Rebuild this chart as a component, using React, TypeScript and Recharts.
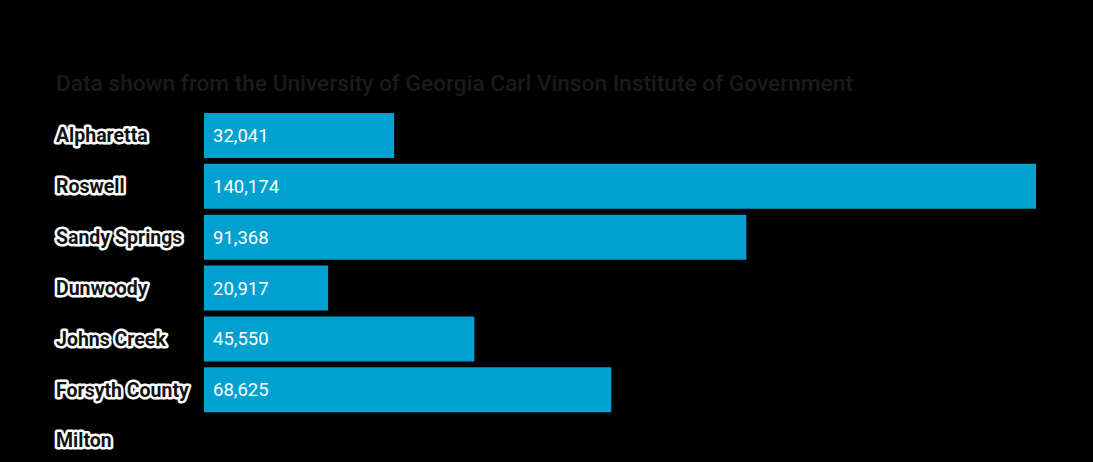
import React from 'react';
import { BarChart, Bar, XAxis, YAxis, LabelList } from 'recharts';

const cities = ['Alpharetta', 'Roswell', 'Sandy Springs', 'Dunwoody', 'Johns Creek', 'Forsyth County', 'Milton'];
const values: (number | null)[] = [32041, 140174, 91368, 20917, 45550, 68625, null];

const data = cities.map((city, i) => ({ city, value: values[i] }));

const CityTick = (props: any) => {
  const { y, payload } = props;
  return (
    <text
      x={56}
      y={y}
      dy="0.35em"
      textAnchor="start"
      fontFamily="Roboto"
      fontWeight="bold"
      fontSize={19.5}
      fill="#111"
      stroke="#fff"
      strokeWidth={5}
      strokeLinejoin="round"
      paintOrder="stroke"
    >
      {payload.value}
    </text>
  );
};

const ValueLabel = (props: any) => {
  const { x, y, height, value } = props;
  if (value == null) return null;
  return (
    <text x={x + 9} y={y + height / 2} dy="0.35em" fill="#fff" fontFamily="Roboto" fontSize={18.5}>
      {Number(value).toLocaleString('en-US')}
    </text>
  );
};

export default function App() {
  return (
    <div style={{ position: 'fixed', left: 0, top: 0, width: 1093, height: 462, background: '#000', overflow: 'hidden' }}>
      <div
        style={{
          position: 'absolute',
          left: 56,
          top: 69,
          fontFamily: 'Roboto',
          fontWeight: 500,
          fontSize: 22.7,
          lineHeight: '30px',
          color: '#1b1b1b',
          whiteSpace: 'nowrap',
        }}
      >
        Data shown from the University of Georgia Carl Vinson Institute of Government
      </div>
      <div style={{ position: 'absolute', left: 0, top: 0 }}>
        <BarChart
          width={1093}
          height={470}
          data={data}
          layout="vertical"
          margin={{ top: 110, right: 57, bottom: 4, left: 0 }}
          barCategoryGap={3}
        >
          <XAxis type="number" domain={[0, 140174]} hide />
          <YAxis
            type="category"
            dataKey="city"
            width={204}
            axisLine={false}
            tickLine={false}
            tick={<CityTick />}
            interval={0}
          />
          <Bar dataKey="value" fill="#00a0cf" isAnimationActive={false}>
            <LabelList dataKey="value" content={<ValueLabel />} />
          </Bar>
        </BarChart>
      </div>
    </div>
  );
}
